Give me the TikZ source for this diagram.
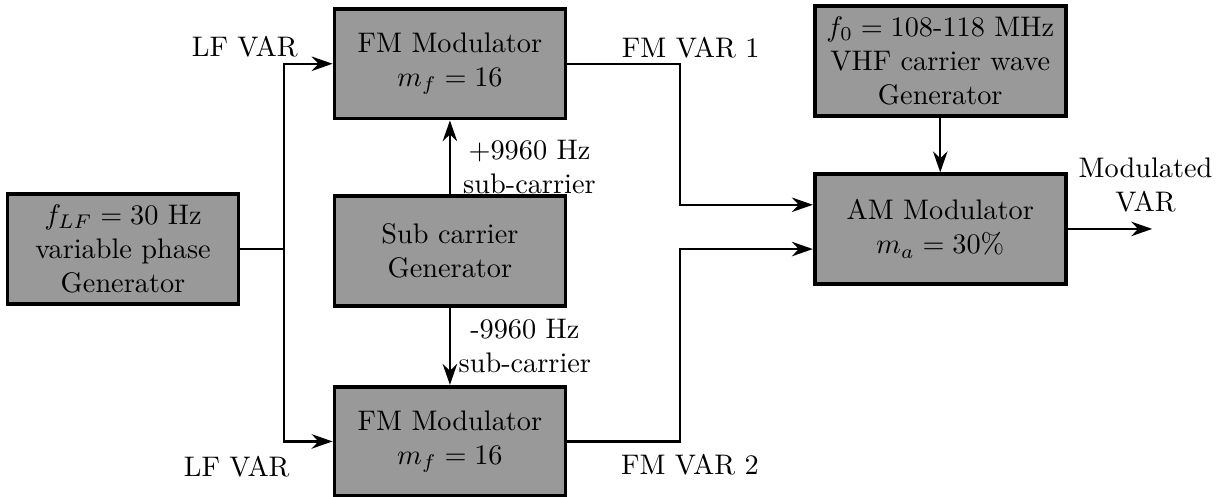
\documentclass[tikz,border=0pt]{standalone}
\usepackage{amsmath,amssymb}
\usepackage{tikz}
\usetikzlibrary{arrows.meta,calc,positioning}
\tikzset{blk/.style={draw,line width=1.3pt,fill=gray!80,align=center,minimum width=2.87cm,minimum height=1.36cm,inner sep=3pt},
  wideblk/.style={blk,minimum width=3.12cm},
  lbl/.style={align=center,inner sep=1pt},
  wire/.style={thick},
  arr/.style={-{Stealth[length=2.6mm,width=1.8mm]},thick}}

\begin{document}
\begin{tikzpicture}[font=\normalsize]
\useasboundingbox (0,0) rectangle (15.18,6.173);
% blocks
\node[blk] (genLF) at (1.528,3.08){$f_{LF}=30$ Hz\\variable phase\\Generator};
\node[blk] (sub) at (5.589,3.055){Sub carrier\\Generator};
\node[blk,above=0.92cm of sub] (fm1){FM Modulator\\$m_f=16$};
\node[blk,below=0.96cm of sub] (fm2){FM Modulator\\$m_f=16$};
\node[wideblk] (vhf) at (11.68,5.415){$f_0=108$-118 MHz\\VHF carrier wave\\Generator};
\node[wideblk] (am) at (11.68,3.329){AM Modulator\\$m_a=30\%$};
% LF branch
\coordinate (bus) at (3.527,3.08);
\draw[wire] (genLF.east) -- (bus);
\draw[arr] (bus) |- (fm1.west);
\draw[arr] (bus) |- (fm2.west);
\node[lbl] (lf1) at (3.04,5.59){LF VAR};
\node[lbl] (lf2) at (2.94,0.373){LF VAR};
% sub-carriers
\draw[arr] (sub) -- (fm1);
\draw[arr] (sub) -- (fm2);
\node[lbl] (plus) at (6.577,4.099){+9960 Hz\\sub-carrier};
\node[lbl] (minus) at (6.52,1.875){-9960 Hz\\sub-carrier};
% to AM modulator
\coordinate (amin1) at ($(am.west)+(0,0.3)$);
\coordinate (amin2) at ($(am.west)+(0,-0.25)$);
\draw[arr] (fm1.east) -- ++(1.4,0) |- (amin1);
\draw[arr] (fm2.east) -- ++(1.4,0) |- (amin2);
\node[lbl] (var1) at (8.58,5.58){FM VAR 1};
\node[lbl] (var2) at (8.57,0.397){FM VAR 2};
\draw[arr] (vhf) -- (am);
\draw[arr] (am.east) -- ++(1.05,0) coordinate (out);
\node[lbl] (modvar) at (14.23,3.875){Modulated\\VAR};
\end{tikzpicture}
\end{document}
